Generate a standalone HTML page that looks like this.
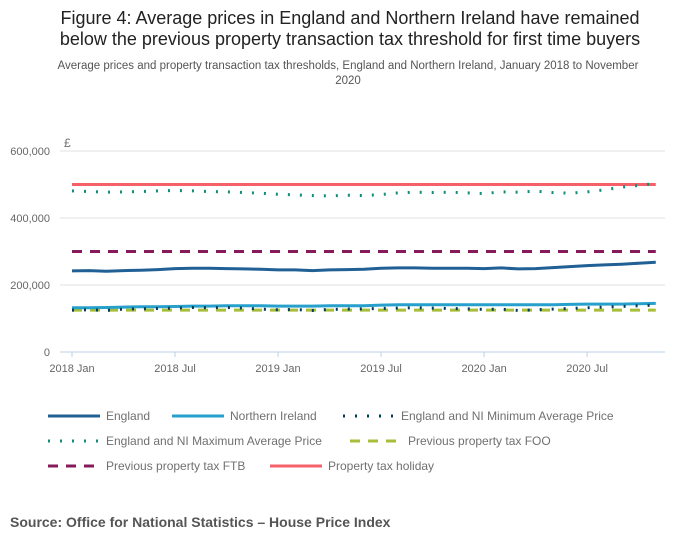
<!DOCTYPE html>
<html><head><meta charset="utf-8">
<style>
body{margin:0;background:#fff;font-family:"Liberation Sans",sans-serif;}
svg text{font-family:"Liberation Sans",sans-serif;}
</style></head>
<body>
<svg width="700" height="549" xmlns="http://www.w3.org/2000/svg">
<text x="350" y="24" text-anchor="middle" font-size="18" fill="#222">Figure 4: Average prices in England and Northern Ireland have remained</text>
<text x="350" y="45" text-anchor="middle" font-size="18" fill="#222">below the previous property transaction tax threshold for first time buyers</text>
<text x="348" y="69" text-anchor="middle" font-size="11.5" fill="#555">Average prices and property transaction tax thresholds, England and Northern Ireland, January 2018 to November</text>
<text x="348" y="84" text-anchor="middle" font-size="11.5" fill="#555">2020</text>
<text x="64" y="147" font-size="12" fill="#707070">£</text>
<g id="grid"></g>
<g id="xaxis"></g>
<g id="series"></g>
<g id="legend" font-size="12" fill="#707070"></g>
<text x="10" y="527" font-size="14" font-weight="bold" fill="#555">Source: Office for National Statistics – House Price Index</text>
</svg>
<script>
const months=35;
const england=[242,243,241,243,244,246,249,250,250,249,248,247,245,245,243,245,246,247,250,251,251,250,250,250,249,251,248,249,252,255,258,260,262,265,268];
const northernIreland=[132,132,133,134,135,135,136,137,137,138,138,138,137,137,137,138,138,138,140,141,141,141,141,141,141,141,141,141,141,142,143,143,143,144,145];
const minPrice=[125,126,124,128,129,130,131,133,132,133,131,128,126,127,124,127,128,129,130,131,132,131,130,129,127,128,124,126,128,130,132,134,136,138,140];
const maxPrice=[481,479,477,478,479,481,482,481,479,478,476,474,471,469,467,466,468,467,470,475,477,476,477,475,473,478,477,480,476,474,478,484,492,497,503];
const fooThreshold=125, ftbThreshold=300, holidayThreshold=500;
const yTicks=[0,200000,400000,600000];
const yTickLabels=["0","200,000","400,000","600,000"];
const xTickMonths=[0,6,12,18,24,30];
const xTickLabels=["2018 Jan","2018 Jul","2019 Jan","2019 Jul","2020 Jan","2020 Jul"];

const NS="http://www.w3.org/2000/svg";
const X=m=>72+m*17.17;
const Y=v=>352-v/600000*201;
function mk(tag,attrs,parent){const e=document.createElementNS(NS,tag);for(const k in attrs)e.setAttribute(k,attrs[k]);parent.appendChild(e);return e;}
const grid=document.getElementById('grid'),xa=document.getElementById('xaxis'),sg=document.getElementById('series'),lg=document.getElementById('legend');
yTicks.forEach((t,i)=>{
  const l=mk('line',{x1:60,x2:665,y1:Y(t),y2:Y(t),stroke:i===0?'#bcd0e6':'#e2e2e2','stroke-width':1},grid);
  
  
  const tx=mk('text',{x:50,y:Y(t)+4,'text-anchor':'end','font-size':11,fill:'#666'},grid);
  tx.textContent=yTickLabels[i];
  
  
});
xTickMonths.forEach((m,i)=>{
  const l=mk('line',{x1:X(m),x2:X(m),y1:352,y2:357,stroke:'#bcd0e6'},xa);
  
  
  const tx=mk('text',{x:X(m),y:372,'text-anchor':'middle','font-size':11,fill:'#666'},xa);
  tx.textContent=xTickLabels[i];
  
  
});
function series(vals,style,name){
  const pts=vals.map((v,i)=>X(i)+','+Y(v*1000)).join(' ');
  const p=mk('polyline',Object.assign({points:pts,fill:'none'},style),sg);
  
  
}
const flat=v=>Array(months).fill(v);
const S={
 holiday:{stroke:'#f66068','stroke-width':3},
 max:{stroke:'#118c7b','stroke-width':3,'stroke-dasharray':'2 10'},
 ftb:{stroke:'#871a5b','stroke-width':3,'stroke-dasharray':'10 8'},
 eng:{stroke:'#206095','stroke-width':3},
 ni:{stroke:'#27a0cc','stroke-width':3},
 foo:{stroke:'#a8bd3a','stroke-width':3,'stroke-dasharray':'10 8'},
 min:{stroke:'#003c57','stroke-width':3,'stroke-dasharray':'2 10'}
};
series(flat(holidayThreshold),S.holiday,'series-property-tax-holiday');
series(maxPrice,S.max,'series-max-average-price');
series(flat(ftbThreshold),S.ftb,'series-previous-tax-ftb');
series(england,S.eng,'series-england');
series(flat(fooThreshold),S.foo,'series-previous-tax-foo');
series(northernIreland,S.ni,'series-northern-ireland');
series(minPrice,S.min,'series-min-average-price');
const legendItems=[
 [48,416,S.eng,'England'],[172,416,S.ni,'Northern Ireland'],[343,416,S.min,'England and NI Minimum Average Price'],
 [48,441,S.max,'England and NI Maximum Average Price'],[350,441,S.foo,'Previous property tax FOO'],
 [48,466,S.ftb,'Previous property tax FTB'],[270,466,S.holiday,'Property tax holiday']
];
legendItems.forEach(it=>{
  const g=mk('g',{},lg);
  
  
  mk('line',Object.assign({x1:it[0],x2:it[0]+52,y1:it[1],y2:it[1]},it[2]),g);
  const t=mk('text',{x:it[0]+58,y:it[1]+4},g);
  t.textContent=it[3];
});
</script>
</body></html>
